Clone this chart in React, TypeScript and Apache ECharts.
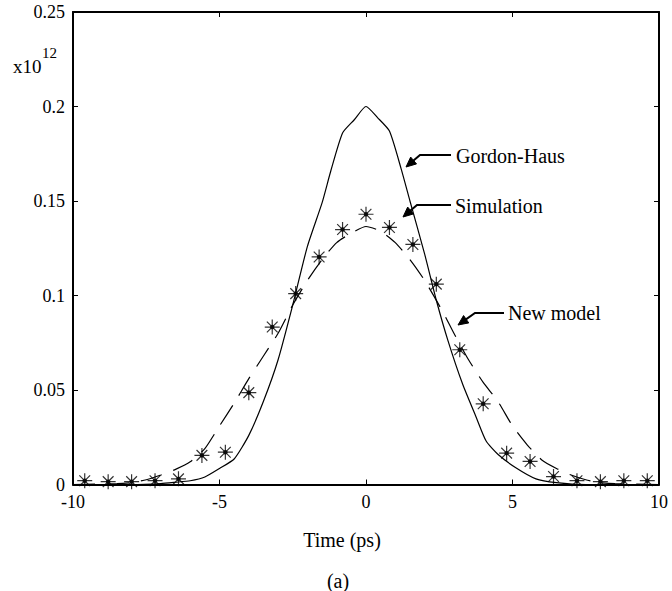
import React, { useEffect, useRef } from "react";
import * as echarts from "echarts";

// Gordon-Haus (solid) curve: time (ps), value (x1e12)
const ghTime = [-10, -8, -7, -6.5, -6, -5.5, -5, -4.5, -4, -3.5, -3, -2.5, -2, -1.5, -1.2, -0.8, -0.4, 0, 0.4, 0.8, 1.2, 1.5, 2, 2.4, 2.8, 3.3, 3.75, 4.1, 4.5, 5.1, 5.8, 6.5, 7.5, 10];
const ghValue = [0, 0, 0.0005, 0.0012, 0.002, 0.004, 0.0085, 0.0135, 0.026, 0.044, 0.066, 0.095, 0.126, 0.149, 0.166, 0.186, 0.193, 0.2, 0.194, 0.187, 0.167, 0.15, 0.122, 0.0975, 0.076, 0.053, 0.036, 0.023, 0.016, 0.009, 0.003, 0.001, 0, 0];

// New model (dashed) curve
const nmTime = [-10, -8.5, -8, -7.5, -7, -6.5, -6, -5.5, -5, -4.5, -4, -3.5, -3, -2.5, -2, -1.5, -1, -0.5, 0, 0.5, 1, 1.5, 2, 2.6, 3, 3.5, 4, 4.5, 5, 5.5, 6, 6.5, 7, 7.5, 8, 8.5, 10];
const nmValue = [0, 0.0005, 0.001, 0.0025, 0.005, 0.008, 0.012, 0.019, 0.031, 0.043, 0.056, 0.068, 0.08, 0.095, 0.108, 0.119, 0.128, 0.133, 0.1365, 0.134, 0.128, 0.119, 0.108, 0.092, 0.08, 0.066, 0.054, 0.044, 0.031, 0.021, 0.013, 0.0085, 0.005, 0.0025, 0.001, 0.0005, 0];

// Simulation (asterisk markers)
const simTime = [-9.6, -8.8, -8.0, -7.2, -6.4, -5.6, -4.8, -4.0, -3.2, -2.4, -1.6, -0.8, 0, 0.8, 1.6, 2.4, 3.2, 4.0, 4.8, 5.6, 6.4, 7.2, 8.0, 8.8, 9.6];
const simValue = [0.002, 0.0015, 0.0015, 0.002, 0.003, 0.0154, 0.0171, 0.0486, 0.0833, 0.101, 0.1204, 0.1349, 0.143, 0.136, 0.127, 0.106, 0.0713, 0.0427, 0.0166, 0.0122, 0.0042, 0.002, 0.0015, 0.002, 0.002];

const xTicks = [-10, -5, 0, 5, 10];
const yTicks = [0, 0.05, 0.1, 0.15, 0.2, 0.25];

const labels = { gh: "Gordon-Haus", sim: "Simulation", nm: "New model", xTitle: "Time (ps)", caption: "(a)", scale: "x10", exp: "12" };

const ASTERISK = "path://M0 -6L0 6M-6 0L6 0M-4.3 -4.3L4.3 4.3M-4.3 4.3L4.3 -4.3";

function zip(a: number[], b: number[]) {
  return a.map((v, i) => [v, b[i]]);
}

function arrow(tip: number[], elbow: number[], end: number[]) {
  const dx = tip[0] - elbow[0];
  const dy = tip[1] - elbow[1];
  const len = Math.hypot(dx, dy);
  const ux = dx / len;
  const uy = dy / len;
  const hl = 10;
  const hw = 4.5;
  const bx = tip[0] - ux * hl;
  const by = tip[1] - uy * hl;
  const nx = -uy;
  const ny = ux;
  return [
    {
      type: "polyline",
      shape: { points: [end, elbow, [bx + ux * 2, by + uy * 2]] },
      style: { stroke: "#000", lineWidth: 2, fill: null },
      silent: true,
    },
    {
      type: "polygon",
      shape: { points: [tip, [bx + nx * hw, by + ny * hw], [bx - nx * hw, by - ny * hw]] },
      style: { fill: "#000", stroke: "#000", lineWidth: 1 },
      silent: true,
    },
  ];
}

export default function App() {
  const ref = useRef<HTMLDivElement>(null);
  useEffect(() => {
    if (!ref.current) return;
    const chart = echarts.init(ref.current, undefined, { renderer: "svg" });
    const serif = "'Liberation Serif', 'Times New Roman', serif";
    const tickFont = { color: "#000", fontSize: 18, fontFamily: serif };
    const axisCommon = {
      axisLine: { show: true, onZero: false, lineStyle: { color: "#000", width: 2 } },
      axisTick: { show: true, inside: true, length: 5, lineStyle: { color: "#000", width: 1 } },
      splitLine: { show: false },
    };
    const yFmt = (v: number) => {
      const r = Math.round(v * 100) / 100;
      const t = yTicks.find((k) => Math.abs(k - r) < 1e-9);
      return t === undefined ? "" : String(t);
    };
    const xFmt = (v: number) => {
      const t = xTicks.find((k) => Math.abs(k - v) < 1e-9);
      return t === undefined ? "" : String(t);
    };
    chart.setOption({
      animation: false,
      backgroundColor: "#fff",
      grid: { left: 73, top: 12, width: 586, height: 472.5, containLabel: false },
      xAxis: [
        { type: "value", min: -10, max: 10, interval: 5, position: "bottom", ...axisCommon, axisLabel: { ...tickFont, margin: 8, formatter: xFmt } },
        { type: "value", min: -10, max: 10, interval: 5, position: "top", ...axisCommon, axisLabel: { show: false } },
      ],
      yAxis: [
        { type: "value", min: 0, max: 0.25, interval: 0.05, position: "left", ...axisCommon, axisLabel: { ...tickFont, margin: 8, formatter: yFmt } },
        { type: "value", min: 0, max: 0.25, interval: 0.05, position: "right", ...axisCommon, axisLabel: { show: false } },
      ],
      series: [
        {
          name: labels.gh,
          type: "line",
          data: zip(ghTime, ghValue),
          symbol: "none",
          smooth: 0.2,
          lineStyle: { color: "#000", width: 1.2 },
        },
        {
          name: labels.nm,
          type: "line",
          data: zip(nmTime, nmValue),
          symbol: "none",
          smooth: 0.2,
          lineStyle: { color: "#000", width: 1.2, type: [22, 12] },
        },
        {
          name: labels.sim,
          type: "scatter",
          data: zip(simTime, simValue),
          symbol: ASTERISK,
          symbolSize: 15,
          clip: false,
          itemStyle: { color: "transparent", borderColor: "#000", borderWidth: 1.2 },
        },
        {
          name: labels.sim + " dot",
          type: "scatter",
          data: zip(simTime, simValue),
          symbol: "circle",
          symbolSize: 4.5,
          clip: false,
          itemStyle: { color: "#000" },
        },
      ],
      graphic: [
        ...arrow([406, 167], [420, 155], [451, 155]),
        ...arrow([403, 217], [417, 205], [451, 205]),
        ...arrow([458, 325], [475, 313], [504, 313]),
        { type: "text", x: 456, y: 156, silent: true, style: { text: labels.gh, fontSize: 20, fontFamily: serif, fill: "#000", verticalAlign: "middle", align: "left" } },
        { type: "text", x: 455, y: 206, silent: true, style: { text: labels.sim, fontSize: 20, fontFamily: serif, fill: "#000", verticalAlign: "middle", align: "left" } },
        { type: "text", x: 508, y: 313, silent: true, style: { text: labels.nm, fontSize: 20, fontFamily: serif, fill: "#000", verticalAlign: "middle", align: "left" } },
        { type: "text", x: 342, y: 540, silent: true, style: { text: labels.xTitle, fontSize: 20, fontFamily: serif, fill: "#000", verticalAlign: "middle", align: "center" } },
        { type: "text", x: 338, y: 581, silent: true, style: { text: labels.caption, fontSize: 20, fontFamily: serif, fill: "#000", verticalAlign: "middle", align: "center" } },
        { type: "text", x: 13, y: 66, silent: true, style: { text: labels.scale, fontSize: 19, fontFamily: serif, fill: "#000", verticalAlign: "middle", align: "left" } },
        { type: "text", x: 42, y: 53, silent: true, style: { text: labels.exp, fontSize: 15, fontFamily: serif, fill: "#000", verticalAlign: "middle", align: "left" } },
      ],
    });
    return () => chart.dispose();
  }, []);
  return <div ref={ref} style={{ position: "fixed", left: 0, top: 0, width: 672, height: 591 }} />;
}
